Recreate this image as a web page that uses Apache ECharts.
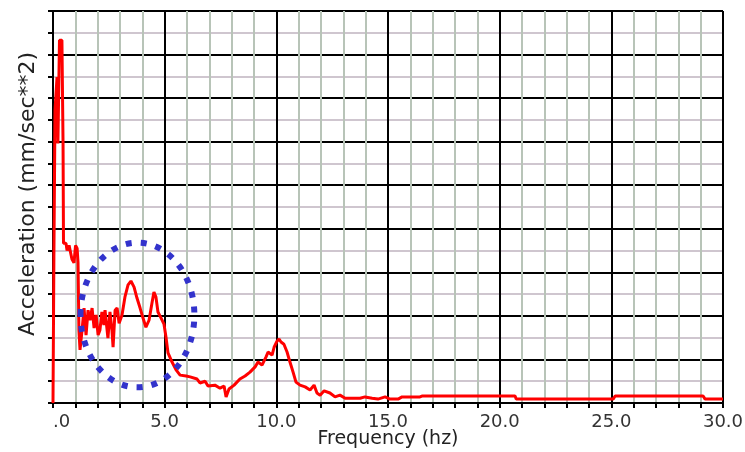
<!DOCTYPE html>
<html>
<head>
<meta charset="utf-8">
<script src="https://cdn.jsdelivr.net/npm/echarts@6/dist/echarts.min.js"></script>
<style>
  html, body { margin: 0; padding: 0; background: #fff; }
  #chart { width: 745px; height: 452px; }
</style>
</head>
<body>
<div id="chart"></div>
<script>
// frequency (hz) and acceleration (grid units)
const freq = [
  0, 0.04, 0.09, 0.18, 0.22, 0.29, 0.40, 0.45, 0.47, 0.58,
  0.63, 0.72, 0.85, 0.94, 1.01, 1.08, 1.12, 1.16, 1.21, 1.30,
  1.39, 1.48, 1.57, 1.66, 1.75, 1.84, 1.93, 2.02, 2.10, 2.19,
  2.28, 2.33, 2.46, 2.55, 2.64, 2.69, 2.78, 2.87, 2.96, 3.09,
  3.22, 3.36, 3.49, 3.63, 3.76, 3.90, 4.03, 4.16, 4.30, 4.43,
  4.52, 4.61, 4.70, 4.84, 4.97, 5.06, 5.15, 5.33, 5.51, 5.69,
  5.96, 6.14, 6.45, 6.58, 6.81, 6.94, 7.25, 7.48, 7.66, 7.75,
  7.88, 8.11, 8.37, 8.60, 8.82, 9.05, 9.18, 9.36, 9.54, 9.63,
  9.81, 9.90, 10.03, 10.12, 10.21, 10.34, 10.48, 10.61, 10.75, 10.88,
  11.06, 11.29, 11.51, 11.69, 11.82, 11.96, 12.14, 12.40, 12.63, 12.85,
  13.08, 13.75, 13.97, 14.29, 14.55, 14.87, 15.09, 15.45, 15.63, 16.43,
  16.52, 20.69, 20.74, 25.08, 25.17, 29.11, 29.20, 30.0
];
const accel = [
  0, 3.35, 6.72, 7.48, 5.96, 8.33, 8.33, 5.96, 3.67, 3.67,
  3.50, 3.62, 3.30, 3.22, 3.62, 3.55, 3.23, 1.67, 1.22, 1.67,
  2.18, 1.56, 2.13, 1.90, 2.18, 1.72, 2.02, 1.56, 1.67, 2.09,
  1.79, 2.13, 1.49, 2.09, 1.67, 1.28, 2.13, 2.18, 1.83, 2.02,
  2.43, 2.71, 2.80, 2.66, 2.41, 2.18, 1.95, 1.74, 1.90, 2.29,
  2.55, 2.43, 2.09, 1.95, 1.81, 1.51, 1.15, 0.94, 0.76, 0.64,
  0.62, 0.60, 0.55, 0.46, 0.50, 0.39, 0.41, 0.34, 0.39, 0.14,
  0.32, 0.41, 0.55, 0.62, 0.71, 0.83, 0.94, 0.87, 1.06, 1.17,
  1.10, 1.28, 1.42, 1.47, 1.40, 1.35, 1.17, 0.94, 0.71, 0.48,
  0.41, 0.37, 0.30, 0.41, 0.23, 0.18, 0.28, 0.23, 0.14, 0.18,
  0.11, 0.11, 0.14, 0.11, 0.09, 0.14, 0.09, 0.09, 0.14, 0.14,
  0.16, 0.16, 0.09, 0.09, 0.16, 0.16, 0.09, 0.09
];

const X_MAX = 30;
const Y_MAX = 9;

// circled region annotation, in data units
const ringCenter = [3.78, 2.02];
const ringRadius = [2.55, 1.66];

const LABEL_FONT = "DejaVu Sans";
const MAJOR = "#000000";
const MINOR_V = "#b8c4b8";
const MINOR_H = "#cfc6cf";

const chart = echarts.init(document.getElementById("chart"), null, { renderer: "canvas" });

chart.setOption({
  animation: false,
  backgroundColor: "#ffffff",
  grid: { left: 53, right: 22, top: 11, bottom: 49, outerBoundsMode: "none" },
  xAxis: {
    type: "value",
    min: 0,
    max: X_MAX,
    interval: 5,
    name: "Frequency (hz)",
    nameLocation: "middle",
    nameGap: 27,
    nameMoveOverlap: false,
    nameTextStyle: { fontFamily: LABEL_FONT, fontSize: 19, color: "#222" },
    axisLine: { lineStyle: { color: MAJOR, width: 2 } },
    axisTick: { show: true, length: 5, lineStyle: { color: MAJOR, width: 2 } },
    minorTick: { show: true, splitNumber: 5, length: 5, lineStyle: { color: MAJOR, width: 2 } },
    splitLine: { show: true, lineStyle: { color: MAJOR, width: 2 } },
    minorSplitLine: { show: true, lineStyle: { color: MINOR_V, width: 2 } },
    axisLabel: {
      fontFamily: LABEL_FONT,
      fontSize: 18,
      color: "#333",
      margin: 10,
      alignMinLabel: "left",
      formatter: (v) => (v === 0 ? ".0" : v.toFixed(1)),
    },
  },
  yAxis: {
    type: "value",
    min: 0,
    max: Y_MAX,
    interval: 1,
    name: "Acceleration (mm/sec**2)",
    nameLocation: "middle",
    nameGap: 14,
    nameMoveOverlap: false,
    nameTextStyle: { fontFamily: LABEL_FONT, fontSize: 22, color: "#222", padding: [0, 0, 0, 26] },
    axisLine: { lineStyle: { color: MAJOR, width: 2 } },
    axisTick: { show: true, length: 5, lineStyle: { color: MAJOR, width: 2 } },
    minorTick: { show: true, splitNumber: 2, length: 5, lineStyle: { color: MAJOR, width: 2 } },
    splitLine: { show: true, lineStyle: { color: MAJOR, width: 2 } },
    minorSplitLine: { show: true, lineStyle: { color: MINOR_H, width: 2 } },
    axisLabel: { show: false },
  },
  series: [
    {
      type: "line",
      data: freq.map((f, i) => [f, accel[i]]),
      showSymbol: false,
      lineStyle: { color: "#ff0000", width: 3 },
      z: 5,
    },
  ],
});

const c = chart.convertToPixel({ gridIndex: 0 }, ringCenter);
const edge = chart.convertToPixel({ gridIndex: 0 }, [ringCenter[0] + ringRadius[0], ringCenter[1] + ringRadius[1]]);
chart.setOption({
  graphic: [
    {
      type: "ellipse",
      z: 100,
      shape: { cx: c[0], cy: c[1], rx: Math.abs(edge[0] - c[0]), ry: Math.abs(edge[1] - c[1]) },
      style: { fill: null, stroke: "#3333cc", lineWidth: 6, lineDash: [6, 9] },
    },
  ],
});
</script>
</body>
</html>
